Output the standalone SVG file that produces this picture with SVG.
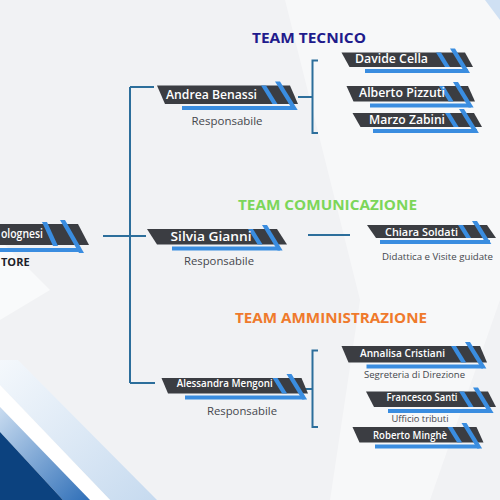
<svg xmlns="http://www.w3.org/2000/svg" width="500" height="500" viewBox="0 0 500 500">
<defs>
<linearGradient id="bandG" x1="0" y1="0" x2="1" y2="1">
<stop offset="0" stop-color="#c9dcf0"/>
<stop offset="1" stop-color="#2f6fb8"/>
</linearGradient>
<linearGradient id="paleG" x1="0" y1="0" x2="1" y2="1">
<stop offset="0" stop-color="#f4f8fc"/>
<stop offset="1" stop-color="#c6daef"/>
</linearGradient>
<style>
.dk{fill:#3b3d42}
.bl{fill:#3a8de0}
.nm{font-family:"Open Sans","Liberation Sans",sans-serif;font-weight:600;fill:#ffffff;text-anchor:middle}
.sub{font-family:"Open Sans","Liberation Sans",sans-serif;font-weight:400;fill:#45474d;text-anchor:middle}
.hd{font-family:"Open Sans","Liberation Sans",sans-serif;font-weight:700}
.cn{fill:none;stroke:#2c6e9b;stroke-width:2}
</style>
</defs>
<rect x="0" y="0" width="500" height="500" fill="#f1f2f4"/>
<polygon points="285,0 500,0 500,300 430,500 330,500 360,300" fill="#ffffff" opacity="0.45"/>
<polygon points="0,240 0,320 50,290" fill="#ffffff" opacity="0.6"/>
<polygon points="485,0 500,0 500,20" fill="#cfe0f3"/>
<polygon points="0,360 18,360 157,500 110,500 0,385" fill="url(#paleG)"/>
<polygon points="0,385 110,500 90,500 0,407" fill="#ffffff"/>
<polygon points="0,407 90,500 63,500 0,432" fill="url(#bandG)"/>
<polygon points="0,432 63,500 0,500" fill="#0c427f"/>

<g id="connectors">
<path class="cn" d="M103,236 H146"/>
<path class="cn" d="M130,87 V383"/>
<path class="cn" d="M130,87 H154"/>
<path class="cn" d="M130,383 H155"/>
<path class="cn" d="M298,97 H312"/>
<path class="cn" d="M318,60.5 H312.5 V133 H318"/>
<path class="cn" d="M308,235 H350"/>
<path class="cn" d="M300,389 H312"/>
<path class="cn" d="M318,350.5 H312.5 V427 H318"/>
</g>

<g id="heading-tecnico"><text class="hd" x="252" y="43" font-size="14" fill="#1f1b8c" textLength="114" lengthAdjust="spacingAndGlyphs">TEAM TECNICO</text></g>
<g id="heading-comunicazione"><text class="hd" x="238" y="210" font-size="14" fill="#7cd65a" textLength="179" lengthAdjust="spacingAndGlyphs">TEAM COMUNICAZIONE</text></g>
<g id="heading-amministrazione"><text class="hd" x="235" y="322.5" font-size="14.5" fill="#ef7a2c" textLength="192" lengthAdjust="spacingAndGlyphs">TEAM AMMINISTRAZIONE</text></g>

<g id="root">
<polygon class="dk" points="-5,224 78,224 89,245 -5,245"/>
<rect class="bl" x="-5" y="248" width="86" height="4"/>
<polygon class="bl" points="42,222 47,222 58,246 53,246"/>
<polygon class="bl" points="60,220 65,220 84,253 79,253"/>
<text class="nm" x="1" y="237.5" font-size="12" style="text-anchor:start" textLength="42" lengthAdjust="spacingAndGlyphs">olognesi</text>
<text class="hd" x="1" y="266" font-size="11" fill="#1e1f2a">TORE</text>
</g>

<g id="andrea">
<polygon class="dk" points="157,85.5 290,85.5 298,104 165,104"/>
<rect class="bl" x="182" y="106" width="111" height="4"/>
<polygon class="bl" points="261,85.5 266,85.5 277.5,104 272.5,104"/>
<polygon class="bl" points="275,81.5 280,81.5 297.7,110 292.7,110"/>
<text class="nm" x="211.5" y="98.5" font-size="12" textLength="91" lengthAdjust="spacingAndGlyphs">Andrea Benassi</text>
<text class="sub" x="227" y="125" font-size="10.5" textLength="71" lengthAdjust="spacingAndGlyphs">Responsabile</text>
</g>

<g id="silvia">
<polygon class="dk" points="147,229 277,229 287,244.5 157,244.5"/>
<rect class="bl" x="172" y="246.5" width="108" height="4"/>
<polygon class="bl" points="248,229 253,229 262.6,244.5 257.6,244.5"/>
<polygon class="bl" points="262,225 267,225 282.6,250.5 277.6,250.5"/>
<text class="nm" x="211" y="241" font-size="12" textLength="81" lengthAdjust="spacingAndGlyphs">Silvia Gianni</text>
<text class="sub" x="219" y="264.5" font-size="10.5" textLength="70" lengthAdjust="spacingAndGlyphs">Responsabile</text>
</g>

<g id="alessandra">
<polygon class="dk" points="161.5,378 301.5,378 308,393.5 168,393.5"/>
<rect class="bl" x="185" y="395.5" width="119.5" height="4"/>
<polygon class="bl" points="272.5,378 277.5,378 287.1,393.5 282.1,393.5"/>
<polygon class="bl" points="286.5,374 291.5,374 307.1,399.5 302.1,399.5"/>
<text class="nm" x="224.7" y="387" font-size="11" textLength="96" lengthAdjust="spacingAndGlyphs">Alessandra Mengoni</text>
<text class="sub" x="242" y="415" font-size="10.5" textLength="70" lengthAdjust="spacingAndGlyphs">Responsabile</text>
</g>

<g id="davide">
<polygon class="dk" points="341.5,52.5 465,52.5 473,67 349.5,67"/>
<rect class="bl" x="365" y="69" width="103" height="4"/>
<polygon class="bl" points="436,52.5 441,52.5 450,67 445,67"/>
<polygon class="bl" points="450,48.5 455,48.5 470,73 465,73"/>
<text class="nm" x="391.5" y="63" font-size="12" textLength="73" lengthAdjust="spacingAndGlyphs">Davide Cella</text>
</g>

<g id="alberto">
<polygon class="dk" points="346.5,86 468,86 475,101.5 353.5,101.5"/>
<rect class="bl" x="370" y="103.5" width="101" height="4"/>
<polygon class="bl" points="439,86 444,86 453.6,101.5 448.6,101.5"/>
<polygon class="bl" points="453,82 458,82 473.6,107.5 468.6,107.5"/>
<text class="nm" x="402" y="97" font-size="12" textLength="86" lengthAdjust="spacingAndGlyphs">Alberto Pizzuti</text>
</g>

<g id="marzo">
<polygon class="dk" points="352.5,113 474,113 482,127 360.5,127"/>
<rect class="bl" x="373" y="129" width="104" height="4"/>
<polygon class="bl" points="445,113 450,113 458.7,127 453.7,127"/>
<polygon class="bl" points="459,109 464,109 478.9,133 473.9,133"/>
<text class="nm" x="407" y="123.5" font-size="12.5" font-weight="700" textLength="76" lengthAdjust="spacingAndGlyphs">Marzo Zabini</text>
</g>

<g id="chiara">
<polygon class="dk" points="367,225 487,225 496,238 376,238"/>
<rect class="bl" x="380" y="240" width="110" height="4"/>
<polygon class="bl" points="458,225 463,225 471.1,238 466.1,238"/>
<polygon class="bl" points="472,221 477,221 491.3,244 486.3,244"/>
<text class="nm" x="421.5" y="235.5" font-size="11" textLength="73" lengthAdjust="spacingAndGlyphs">Chiara Soldati</text>
<text class="sub" x="437.5" y="260" font-size="9.5" textLength="111" lengthAdjust="spacingAndGlyphs">Didattica e Visite guidate</text>
</g>

<g id="annalisa">
<polygon class="dk" points="341.5,346 480,346 487,362.5 348.5,362.5"/>
<rect class="bl" x="366.5" y="364.5" width="116.5" height="4"/>
<polygon class="bl" points="451,346 456,346 466.2,362.5 461.2,362.5"/>
<polygon class="bl" points="465,342 470,342 486.4,368.5 481.4,368.5"/>
<text class="nm" x="402.5" y="357" font-size="11" textLength="85" lengthAdjust="spacingAndGlyphs">Annalisa Cristiani</text>
<text class="sub" x="414.5" y="378" font-size="9.5" textLength="101" lengthAdjust="spacingAndGlyphs">Segreteria di Direzione</text>
</g>

<g id="francesco">
<polygon class="dk" points="366,391.5 488,391.5 496,407 374,407"/>
<rect class="bl" x="388" y="409" width="103" height="4"/>
<polygon class="bl" points="459,391.5 464,391.5 473.6,407 468.6,407"/>
<polygon class="bl" points="473,387.5 478,387.5 493.6,413 488.6,413"/>
<text class="nm" x="422" y="401" font-size="10.5" textLength="71" lengthAdjust="spacingAndGlyphs">Francesco Santi</text>
<text class="sub" x="420" y="421.5" font-size="9.5" textLength="57" lengthAdjust="spacingAndGlyphs">Ufficio tributi</text>
</g>

<g id="roberto">
<polygon class="dk" points="352.5,427 476.5,427 483.5,442.5 359.5,442.5"/>
<rect class="bl" x="375" y="444.5" width="104.5" height="4"/>
<polygon class="bl" points="447.5,427 452.5,427 462.1,442.5 457.1,442.5"/>
<polygon class="bl" points="461.5,423 466.5,423 482.1,448.5 477.1,448.5"/>
<text class="nm" x="410" y="438.5" font-size="10.5" textLength="74" lengthAdjust="spacingAndGlyphs">Roberto Minghè</text>
</g>
</svg>
